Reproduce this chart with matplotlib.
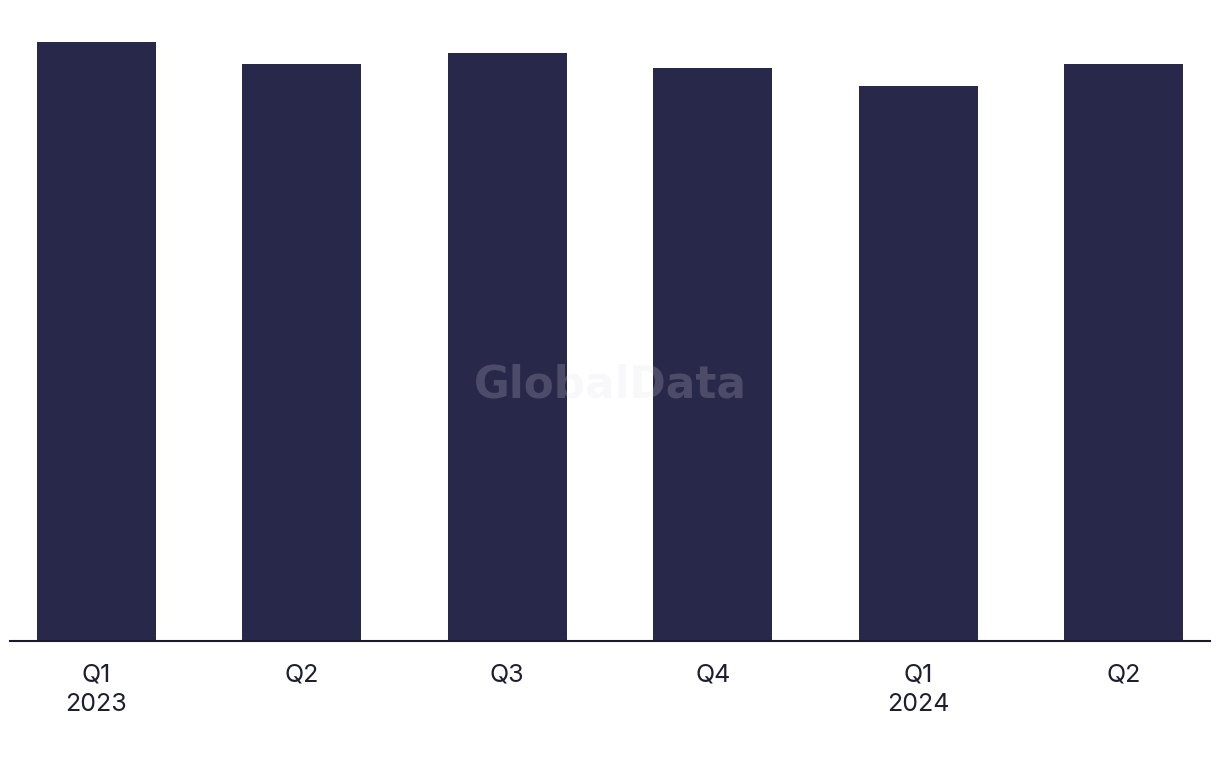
import matplotlib
matplotlib.use("Agg")
import matplotlib.pyplot as plt

categories = ["Q1\n2023", "Q2", "Q3", "Q4", "Q1\n2024", "Q2"]
values = [59.9, 57.7, 58.8, 57.3, 55.5, 57.7]

fig = plt.figure(figsize=(12.2, 7.68), dpi=100)
ax = fig.add_axes([10/1220, 127/768, 1200/1220, 599/768])
x = list(range(len(categories)))
ax.bar(x, values, width=0.58, color="#28284a", zorder=2)
ax.set_xlim(-0.42, 5.42)
ax.set_ylim(0, max(values))
ax.set_xticks(x)
ax.set_xticklabels(categories, fontsize=18, family=["Inter", "DejaVu Sans"],
                   color="#1e1e30", linespacing=1.4)
ax.tick_params(axis="x", length=0, pad=16)
ax.set_yticks([])
for s in ["top", "right", "left"]:
    ax.spines[s].set_visible(False)
ax.spines["bottom"].set_color("#1a1a2a")
ax.spines["bottom"].set_linewidth(1.5)
ax.spines["bottom"].set_zorder(3)

fig.text(610/1220, 1 - 385/768, "GlobalData", ha="center", va="center",
         fontsize=31.5, fontweight="bold", color="#e0e0e8", alpha=0.2,
         family="DejaVu Sans", zorder=10)

fig.savefig("out.png", dpi=100, facecolor="white")
